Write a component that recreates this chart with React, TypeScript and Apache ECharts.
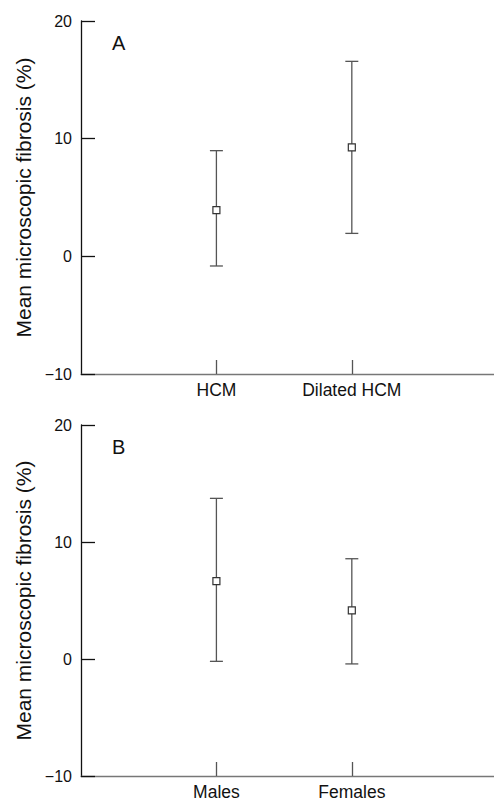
import React, { useEffect, useRef } from "react";
import * as echarts from "echarts";

const categoriesA = ["HCM", "Dilated HCM"];
const meanA = [3.93, 9.26];
const lowA = [-0.82, 1.95];
const highA = [8.98, 16.57];

const categoriesB = ["Males", "Females"];
const meanB = [6.65, 4.16];
const lowB = [-0.2, -0.42];
const highB = [13.73, 8.57];

const yTicks = [-10, 0, 10, 20];
const yName = "Mean microscopic fibrosis (%)";
const panelLabels = ["A", "B"];

const FONT = "'Liberation Sans', Arial, Helvetica, sans-serif";

function buildData(mean: number[], low: number[], high: number[]) {
  return mean.map((m, i) => [i + 1, m, low[i], high[i]]);
}

function renderItem(params: any, api: any) {
  const x = api.value(0);
  const p = api.coord([x, api.value(1)]);
  const lo = api.coord([x, api.value(2)]);
  const hi = api.coord([x, api.value(3)]);
  const cap = 6.5;
  const s = 7;
  const lineStyle = { stroke: "#555", lineWidth: 1.3 };
  return {
    type: "group",
    children: [
      { type: "line", shape: { x1: lo[0], y1: lo[1], x2: hi[0], y2: hi[1] }, style: lineStyle },
      { type: "line", shape: { x1: hi[0] - cap, y1: hi[1], x2: hi[0] + cap, y2: hi[1] }, style: lineStyle },
      { type: "line", shape: { x1: lo[0] - cap, y1: lo[1], x2: lo[0] + cap, y2: lo[1] }, style: lineStyle },
      {
        type: "rect",
        shape: { x: p[0] - s / 2, y: p[1] - s / 2, width: s, height: s },
        style: { fill: "#fff", stroke: "#333", lineWidth: 1.2 },
      },
    ],
  };
}

export default function App() {
  const ref = useRef<HTMLDivElement>(null);
  useEffect(() => {
    if (!ref.current) return;
    const chart = echarts.init(ref.current, null, { renderer: "svg" });
    const cats = [categoriesA, categoriesB];
    const grids = [
      { left: 81, top: 21, right: 0, height: 353 },
      { left: 81, top: 425, right: 0, height: 353.3 },
    ];
    const xAxis = cats.map((c, i) => ({
      type: "value",
      gridIndex: i,
      min: 0,
      max: 3.05,
      interval: 1,
      splitLine: { show: false },
      axisLine: { show: true, onZero: false, lineStyle: { color: "#777", width: 1.3 } },
      axisTick: {
        show: true,
        inside: true,
        length: 14,
        customValues: [1, 2],
        lineStyle: { color: "#555", width: 1.3 },
      },
      axisLabel: {
        customValues: [1, 2],
        formatter: (v: number) => c[Math.round(v) - 1] ?? "",
        fontSize: 17.5,
        fontFamily: FONT,
        color: "#111",
        margin: 7,
      },
    }));
    const yAxis = cats.map((_, i) => ({
      type: "value",
      gridIndex: i,
      min: yTicks[0],
      max: yTicks[yTicks.length - 1],
      interval: 10,
      splitLine: { show: false },
      axisLine: { show: true, onZero: false, lineStyle: { color: "#111", width: 1.3 } },
      axisTick: { show: true, inside: true, length: 14, lineStyle: { color: "#111", width: 1.3 } },
      axisLabel: {
        fontSize: 16,
        fontFamily: FONT,
        color: "#111",
        margin: 9,
        formatter: (v: number) => (v < 0 ? "\u2212" + Math.abs(v) : String(v)),
      },
      name: yName,
      nameLocation: "middle",
      nameRotate: 90,
      nameGap: 46,
      nameTextStyle: { fontSize: 21, fontFamily: FONT, color: "#111" },
    }));
    chart.setOption({
      animation: false,
      backgroundColor: "#fff",
      grid: grids,
      xAxis,
      yAxis,
      graphic: [
        {
          type: "text",
          left: 112,
          top: 33,
          style: { text: panelLabels[0], fontSize: 20, fontFamily: FONT, fill: "#111" },
        },
        {
          type: "text",
          left: 112,
          top: 437,
          style: { text: panelLabels[1], fontSize: 20, fontFamily: FONT, fill: "#111" },
        },
      ],
      series: [
        {
          type: "custom",
          xAxisIndex: 0,
          yAxisIndex: 0,
          renderItem,
          data: buildData(meanA, lowA, highA),
          clip: false,
        },
        {
          type: "custom",
          xAxisIndex: 1,
          yAxisIndex: 1,
          renderItem,
          data: buildData(meanB, lowB, highB),
          clip: false,
        },
      ],
    });
    return () => chart.dispose();
  }, []);
  return (
    <div
      ref={ref}
      style={{ position: "absolute", left: 0, top: 0, width: 494, height: 801, background: "#fff" }}
    />
  );
}
